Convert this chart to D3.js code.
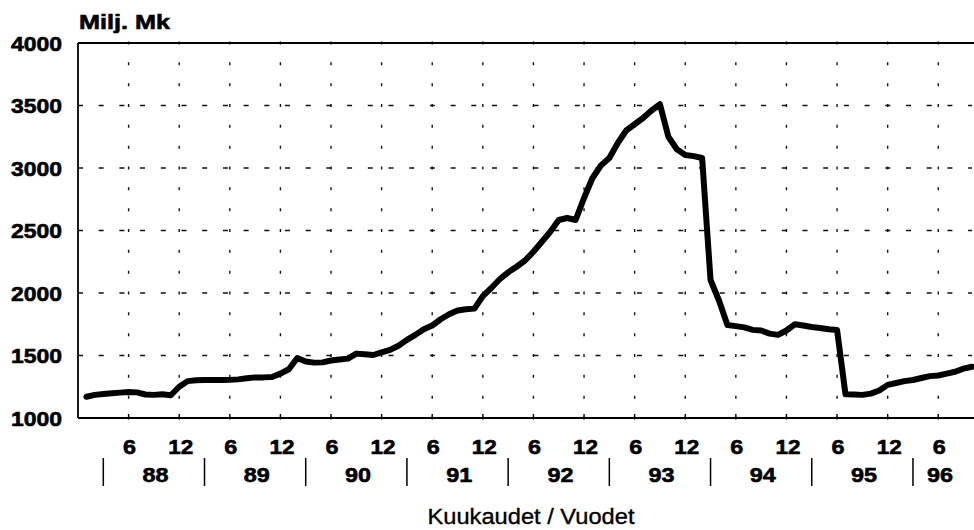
<!DOCTYPE html>
<html>
<head>
<meta charset="utf-8">
<script src="https://cdn.jsdelivr.net/npm/d3@7"></script>
<style>
  html, body { margin: 0; padding: 0; background: #fff; }
  svg { display: block; }
  text { font-family: "Liberation Sans", Arial, Helvetica, sans-serif; fill: #000; }
  text.b { stroke: #000; stroke-width: 0.6px; }
  text.m { stroke: #000; stroke-width: 0.35px; }
</style>
</head>
<body>
<svg id="chart" width="974" height="530"></svg>
<script>
// ---- data (month index: 1 = Jan 1988) ----
const months = d3.range(1, 107);
const values = [
  1170, 1185, 1192, 1198, 1203, 1208, 1205, 1188, 1185, 1190, 1182, 1250,
  1295, 1302, 1304, 1305, 1304, 1305, 1309, 1318, 1325, 1325, 1328, 1355,
  1390, 1480, 1452, 1443, 1445, 1460, 1468, 1475, 1515, 1510, 1504, 1525,
  1545, 1578, 1625, 1665, 1710, 1740, 1790, 1830, 1860, 1870, 1875, 1975,
  2040, 2110, 2165, 2210, 2260, 2330, 2410, 2490, 2584, 2600, 2584, 2760,
  2920, 3020, 3080, 3200, 3300, 3350, 3400, 3460, 3510, 3250, 3150, 3104,
  3095, 3080, 2104, 1940, 1744, 1735, 1725, 1705, 1700, 1675, 1665, 1700,
  1750, 1740, 1728, 1720, 1710, 1704, 1190, 1188, 1185, 1195, 1220, 1265,
  1280, 1295, 1304, 1320, 1335, 1340, 1355, 1370, 1395, 1410
];
const yTicks = [1000, 1500, 2000, 2500, 3000, 3500, 4000];
const yGrid = [1500, 2000, 2500, 3000, 3500];
const monthTickMonths = d3.range(6, 103, 6);          // 6, 12, 18, ... 102
const monthTickLabels = monthTickMonths.map(m => String(((m - 1) % 12) + 1));
const yearLabels = ["88", "89", "90", "91", "92", "93", "94", "95", "96"];
const yearLabelMonths = [9.2, 21.2, 33.2, 45.2, 57.2, 69.2, 81.2, 93.2, 102.2];
const yearSeparatorMonths = [3, 15, 27, 39, 51, 63, 75, 87, 99];
const yTitle = "Milj. Mk";
const xTitle = "Kuukaudet / Vuodet";

(function () {
// ---- layout ----
const svg = d3.select("#chart");
const pLeft = 78, pRight = 972, pTop = 43, pBottom = 418;
const x = d3.scaleLinear().domain([0, 106]).range([pLeft, pRight]);
const y = d3.scaleLinear().domain([1000, 4000]).range([pBottom, pTop]);

// horizontal dashed grid
svg.append("g").selectAll("line").data(yGrid).join("line")
  .attr("x1", pLeft).attr("x2", pRight)
  .attr("y1", d => y(d)).attr("y2", d => y(d))
  .attr("stroke", "#111").attr("stroke-width", 1.4)
  .attr("stroke-dasharray", "5,15.7");

// vertical dashed grid
const period = (pBottom - pTop) / 18;
svg.append("g").selectAll("line").data(monthTickMonths).join("line")
  .attr("x1", d => x(d)).attr("x2", d => x(d))
  .attr("y1", pBottom + 1.5).attr("y2", pTop - 1.5)
  .attr("stroke", "#111").attr("stroke-width", 1.4)
  .attr("stroke-dasharray", `3,${period - 3}`);

// frame: left, bottom, top
svg.append("line").attr("x1", pLeft).attr("x2", pLeft).attr("y1", pTop).attr("y2", pBottom)
  .attr("stroke", "#000").attr("stroke-width", 1.8);
svg.append("line").attr("x1", pLeft).attr("x2", pRight + 2).attr("y1", pBottom).attr("y2", pBottom)
  .attr("stroke", "#000").attr("stroke-width", 1.8);
svg.append("line").attr("x1", pLeft).attr("x2", pRight + 2).attr("y1", pTop).attr("y2", pTop)
  .attr("stroke", "#000").attr("stroke-width", 1.8);

// small ticks on bottom axis
svg.append("g").selectAll("line").data(monthTickMonths).join("line")
  .attr("x1", d => x(d)).attr("x2", d => x(d))
  .attr("y1", pBottom).attr("y2", pBottom - 4)
  .attr("stroke", "#000").attr("stroke-width", 1.4);

// y tick labels
svg.append("g").selectAll("text").data(yTicks).join("text")
  .attr("class", "b")
  .attr("x", 62).attr("y", d => y(d) + 7.5)
  .attr("text-anchor", "end")
  .attr("font-size", 21).attr("font-weight", "bold")
  .attr("textLength", 51).attr("lengthAdjust", "spacingAndGlyphs")
  .text(d => d);

// y title
svg.append("text").attr("class", "b").attr("x", 79).attr("y", 29)
  .attr("font-size", 20).attr("font-weight", "bold")
  .attr("textLength", 91).attr("lengthAdjust", "spacingAndGlyphs")
  .text(yTitle);

// month tick labels
svg.append("g").selectAll("text").data(monthTickMonths).join("text")
  .attr("class", "b")
  .attr("x", (d, i) => x(d) + (monthTickLabels[i].length > 1 ? 1.5 : 1))
  .attr("y", 454)
  .attr("text-anchor", "middle")
  .attr("font-size", 21).attr("font-weight", "bold")
  .attr("textLength", (d, i) => monthTickLabels[i].length > 1 ? 25 : 13)
  .attr("lengthAdjust", "spacingAndGlyphs")
  .text((d, i) => monthTickLabels[i]);

// year separators
svg.append("g").selectAll("line").data(yearSeparatorMonths).join("line")
  .attr("x1", d => x(d)).attr("x2", d => x(d))
  .attr("y1", 458).attr("y2", 486)
  .attr("stroke", "#000").attr("stroke-width", 1.5);

// year labels
svg.append("g").selectAll("text").data(yearLabels).join("text")
  .attr("class", "b")
  .attr("x", (d, i) => x(yearLabelMonths[i]))
  .attr("y", 482)
  .attr("text-anchor", "middle")
  .attr("font-size", 21).attr("font-weight", "bold")
  .attr("textLength", 26).attr("lengthAdjust", "spacingAndGlyphs")
  .text(d => d);

// x title
svg.append("text").attr("class", "m").attr("x", 531).attr("y", 524)
  .attr("text-anchor", "middle")
  .attr("font-size", 22)
  .attr("textLength", 207).attr("lengthAdjust", "spacingAndGlyphs")
  .text(xTitle);

// data line
const line = d3.line().x((d, i) => x(months[i])).y(d => y(d));
svg.append("path").datum(values)
  .attr("d", line)
  .attr("fill", "none").attr("stroke", "#000")
  .attr("stroke-width", 6).attr("stroke-linejoin", "round").attr("stroke-linecap", "round");
})();
</script>
</body>
</html>
